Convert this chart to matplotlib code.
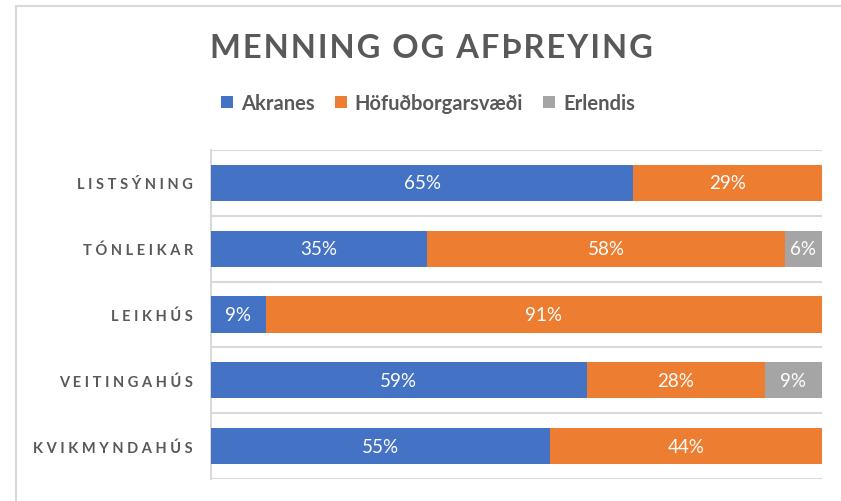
import numpy as np
import matplotlib.pyplot as plt
from matplotlib.patches import Rectangle

# data (percent, as labelled)
categories = ['LISTSÝNING', 'TÓNLEIKAR', 'LEIKHÚS', 'VEITINGAHÚS', 'KVIKMYNDAHÚS']
akranes = [65, 35, 9, 59, 55]
hofudborg = [29, 58, 91, 28, 44]
erlendis = [0, 6, 0, 9, 0]
series_names = ['Akranes', 'Höfuðborgarsvæði', 'Erlendis']
colors = ['#4472C4', '#ED7D31', '#A5A5A5']

plt.rcParams['font.family'] = ['Lato', 'DejaVu Sans']

vals = np.array([akranes, hofudborg, erlendis], dtype=float)
shares = vals / vals.sum(axis=0)  # 100% stacked like Excel

fig = plt.figure(figsize=(8.41, 5.02), dpi=100)
ax = fig.add_axes([211 / 841, 22 / 502, 611 / 841, 329 / 502])

y = np.arange(len(categories))
left = np.zeros(len(categories))
for k in range(3):
    bars = ax.barh(y, shares[k], left=left, height=0.55, color=colors[k],
                   label=series_names[k], zorder=3)
    for i, b in enumerate(bars):
        if vals[k, i] > 0:
            ax.text(left[i] + shares[k, i] / 2, y[i], f'{int(vals[k, i])}%',
                    ha='center', va='center', color='white', fontsize=13.5,
                    zorder=4)
    left += shares[k]

ax.set_xlim(0, 1)
ax.set_ylim(len(categories) - 0.5, -0.5)
ax.set_yticks(y)
ax.set_yticklabels(['\u2005'.join(c) for c in categories], fontsize=10.5,
                   fontweight='bold', color='#595959')
ax.tick_params(axis='y', length=0, pad=13)
ax.set_xticks([])
# category separators
for yb in np.arange(-0.5, len(categories), 1.0):
    ax.axhline(yb, color='#D9D9D9', lw=1.5, zorder=1)
for s in ['top', 'right', 'bottom']:
    ax.spines[s].set_visible(False)
ax.spines['left'].set_color('#D9D9D9')
ax.spines['left'].set_linewidth(1.5)

fig.text(431 / 841, 1 - 48 / 502, '\u200a'.join('MENNING OG AFÞREYING'),
         ha='center', va='center', fontsize=23.5, fontweight='bold',
         color='#595959')

handles, labels = ax.get_legend_handles_labels()
fig.legend(handles, labels, loc='center', bbox_to_anchor=(428 / 841, 1 - 104 / 502),
           ncol=3, frameon=False, handlelength=0.6, handleheight=0.6,
           handletextpad=0.4, columnspacing=1.0,
           prop={'weight': 'bold', 'size': 14.5})
for t in fig.legends[0].get_texts():
    t.set_color('#595959')

# outer chart frame
fig.patches.append(Rectangle((16 / 841, -0.1), 1.0, 1.1 - 7 / 502, transform=fig.transFigure,
                             fill=False, edgecolor='#D9D9D9', lw=1.5))

fig.savefig('out.png', dpi=100)
